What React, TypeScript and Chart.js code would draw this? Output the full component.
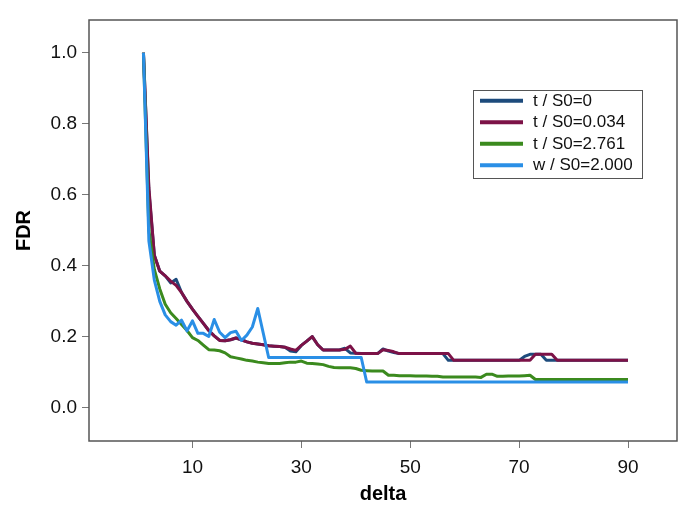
import React, { useEffect, useRef } from "react";
import { Chart, registerables } from "chart.js";

Chart.register(...registerables);

const deltas = [
  1, 2, 3, 4, 5, 6, 7, 8, 9, 10, 11, 12, 13, 14, 15, 16, 17, 18, 19, 20,
  21, 22, 23, 24, 25, 26, 27, 28, 29, 30, 31, 32, 33, 34, 35, 36, 37, 38, 39, 40,
  41, 42, 43, 44, 45, 46, 47, 48, 49, 50, 51, 52, 53, 54, 55, 56, 57, 58, 59, 60,
  61, 62, 63, 64, 65, 66, 67, 68, 69, 70, 71, 72, 73, 74, 75, 76, 77, 78, 79, 80,
  81, 82, 83, 84, 85, 86, 87, 88, 89, 90,
];

// t / S0=0
const fdrT0 = [
  1.0, 0.61, 0.43, 0.385, 0.372, 0.352, 0.362, 0.325, 0.3, 0.278,
  0.258, 0.238, 0.218, 0.203, 0.19, 0.189, 0.192, 0.197, 0.192, 0.186,
  0.182, 0.18, 0.178, 0.175, 0.174, 0.173, 0.171, 0.16, 0.158, 0.176,
  0.188, 0.201, 0.178, 0.163, 0.163, 0.163, 0.163, 0.168, 0.155, 0.154,
  0.153, 0.153, 0.153, 0.153, 0.166, 0.16, 0.156, 0.153, 0.153, 0.153,
  0.153, 0.153, 0.153, 0.153, 0.153, 0.153, 0.134, 0.134, 0.134, 0.134,
  0.134, 0.134, 0.134, 0.134, 0.134, 0.134, 0.134, 0.134, 0.134, 0.134,
  0.145, 0.151, 0.151, 0.151, 0.134, 0.134, 0.134, 0.134, 0.134, 0.134,
  0.134, 0.134, 0.134, 0.134, 0.134, 0.134, 0.134, 0.134, 0.134, 0.134,
];

// t / S0=0.034
const fdrT0034 = [
  1.0, 0.62, 0.43, 0.385, 0.372, 0.357, 0.345, 0.325, 0.3, 0.278,
  0.258, 0.238, 0.218, 0.203, 0.19, 0.189, 0.192, 0.197, 0.192, 0.186,
  0.182, 0.18, 0.178, 0.175, 0.174, 0.173, 0.171, 0.166, 0.162, 0.176,
  0.188, 0.201, 0.178, 0.163, 0.163, 0.163, 0.163, 0.165, 0.174, 0.154,
  0.153, 0.153, 0.153, 0.153, 0.164, 0.162, 0.158, 0.153, 0.153, 0.153,
  0.153, 0.153, 0.153, 0.153, 0.153, 0.153, 0.153, 0.134, 0.134, 0.134,
  0.134, 0.134, 0.134, 0.134, 0.134, 0.134, 0.134, 0.134, 0.134, 0.134,
  0.134, 0.134, 0.151, 0.151, 0.151, 0.151, 0.134, 0.134, 0.134, 0.134,
  0.134, 0.134, 0.134, 0.134, 0.134, 0.134, 0.134, 0.134, 0.134, 0.134,
];

// t / S0=2.761
const fdrT2761 = [
  1.0, 0.5, 0.39, 0.335, 0.292, 0.268, 0.252, 0.235, 0.218, 0.198,
  0.19, 0.177, 0.164, 0.163, 0.161, 0.155, 0.144, 0.141, 0.138, 0.134,
  0.132, 0.129, 0.127, 0.125, 0.125, 0.125, 0.127, 0.129, 0.129, 0.132,
  0.126, 0.125, 0.124, 0.122, 0.117, 0.114, 0.113, 0.113, 0.113, 0.111,
  0.106, 0.105, 0.104, 0.104, 0.104, 0.092, 0.092, 0.091, 0.091, 0.091,
  0.09, 0.09, 0.09, 0.089, 0.089, 0.087, 0.087, 0.087, 0.087, 0.087,
  0.087, 0.087, 0.086, 0.095, 0.095, 0.089, 0.089, 0.09, 0.09, 0.09,
  0.091, 0.092, 0.08, 0.08, 0.08, 0.08, 0.08, 0.08, 0.08, 0.08,
  0.08, 0.08, 0.08, 0.08, 0.08, 0.08, 0.08, 0.08, 0.08, 0.08,
];

// w / S0=2.000
const fdrW2000 = [
  1.0, 0.47, 0.36, 0.3, 0.262, 0.243, 0.233, 0.247, 0.217, 0.245,
  0.21, 0.21, 0.201, 0.249, 0.213, 0.198, 0.212, 0.216, 0.19, 0.205,
  0.228, 0.28, 0.211, 0.142, 0.142, 0.142, 0.142, 0.142, 0.142, 0.142,
  0.142, 0.142, 0.142, 0.142, 0.142, 0.142, 0.142, 0.142, 0.142, 0.142,
  0.142, 0.073, 0.073, 0.073, 0.073, 0.073, 0.073, 0.073, 0.073, 0.073,
  0.073, 0.073, 0.073, 0.073, 0.073, 0.073, 0.073, 0.073, 0.073, 0.073,
  0.073, 0.073, 0.073, 0.073, 0.073, 0.073, 0.073, 0.073, 0.073, 0.073,
  0.073, 0.073, 0.073, 0.073, 0.073, 0.073, 0.073, 0.073, 0.073, 0.073,
  0.073, 0.073, 0.073, 0.073, 0.073, 0.073, 0.073, 0.073, 0.073, 0.073,
];

const seriesLabels = ["t / S0=0", "t / S0=0.034", "t / S0=2.761", "w / S0=2.000"];
const seriesValues = [fdrT0, fdrT0034, fdrT2761, fdrW2000];
const seriesColors = ["#1d4b7c", "#7c1247", "#3b8a1e", "#2a8fe6"];
const seriesOrder = [3, 2, 1, 0];

const xTicks = [10, 30, 50, 70, 90];
const yTicks = [0.0, 0.2, 0.4, 0.6, 0.8, 1.0];

const FONT = "'Liberation Sans', Arial, Helvetica, sans-serif";

const framePlugin = {
  id: "frameAndLegend",
  afterDraw(chart: any) {
    const { ctx, chartArea: a } = chart;
    ctx.save();
    ctx.strokeStyle = "#555";
    ctx.lineWidth = 1.5;
    ctx.strokeRect(a.left, a.top, a.right - a.left, a.bottom - a.top);

    // legend box
    const bx = 473.5, by = 90.5, bw = 169, bh = 88;
    ctx.fillStyle = "#ffffff";
    ctx.fillRect(bx, by, bw, bh);
    ctx.strokeStyle = "#555";
    ctx.lineWidth = 1;
    ctx.strokeRect(bx, by, bw, bh);
    chart.data.datasets.forEach((ds: any, i: number) => {
      const y = 100.7 + i * 21.5;
      ctx.strokeStyle = ds.borderColor;
      ctx.lineWidth = 4;
      ctx.beginPath();
      ctx.moveTo(480, y);
      ctx.lineTo(523, y);
      ctx.stroke();
      ctx.fillStyle = "#111";
      ctx.font = `17px ${FONT}`;
      ctx.textBaseline = "middle";
      ctx.textAlign = "left";
      ctx.fillText(ds.label, 533, y + 0.5);
    });
    ctx.restore();
  },
};

export default function App() {
  const canvasRef = useRef<HTMLCanvasElement | null>(null);

  useEffect(() => {
    const canvas = canvasRef.current;
    if (!canvas) return;
    const chart = new Chart(canvas, {
      type: "line",
      data: {
        datasets: seriesLabels.map((label, i) => ({
          label,
          data: deltas.map((d, j) => ({ x: d, y: seriesValues[i][j] })),
          borderColor: seriesColors[i],
          backgroundColor: seriesColors[i],
          borderWidth: 3,
          pointRadius: 0,
          tension: 0,
          fill: false,
          order: seriesOrder[i],
          borderJoinStyle: "round" as const,
        })),
      },
      options: {
        animation: false,
        responsive: false,
        devicePixelRatio: 1,
        layout: { padding: { top: 20, right: 8, left: 0, bottom: 0 } },
        plugins: {
          legend: { display: false },
          tooltip: { enabled: false },
        },
        scales: {
          x: {
            type: "linear",
            min: -9,
            max: 99,
            afterBuildTicks: (scale: any) => {
              scale.ticks = xTicks.map((v) => ({ value: v }));
            },
            afterFit: (scale: any) => {
              scale.height = 80;
            },
            grid: {
              display: true,
              drawOnChartArea: false,
              drawTicks: true,
              tickLength: 7,
              tickColor: "#777",
              color: "#777",
            },
            border: { display: false },
            ticks: {
              color: "#111",
              font: { family: FONT, size: 19 },
              padding: 8,
              maxRotation: 0,
              autoSkip: false,
              callback: (v: any) => String(v),
            },
            title: {
              display: true,
              text: "delta",
              color: "#000",
              font: { family: FONT, size: 20, weight: "bold" },
              padding: { top: 0, bottom: 15 },
            },
          },
          y: {
            type: "linear",
            min: -0.093,
            max: 1.092,
            afterBuildTicks: (scale: any) => {
              scale.ticks = yTicks.map((v) => ({ value: v }));
            },
            afterFit: (scale: any) => {
              scale.width = 89;
            },
            grid: {
              display: true,
              drawOnChartArea: false,
              drawTicks: true,
              tickLength: 7,
              tickColor: "#777",
              color: "#777",
            },
            border: { display: false },
            ticks: {
              color: "#111",
              font: { family: FONT, size: 19 },
              padding: 5,
              autoSkip: false,
              callback: (v: any) => Number(v).toFixed(1),
            },
            title: {
              display: true,
              text: "FDR",
              color: "#000",
              font: { family: FONT, size: 20, weight: "bold" },
              padding: { top: 12, bottom: 0 },
            },
          },
        },
      },
      plugins: [framePlugin],
    });
    return () => chart.destroy();
  }, []);

  return (
    <div style={{ position: "absolute", left: 0, top: 0, width: 685, height: 521, background: "#fff" }}>
      <canvas ref={canvasRef} width={685} height={521} style={{ width: 685, height: 521, display: "block" }} />
    </div>
  );
}
